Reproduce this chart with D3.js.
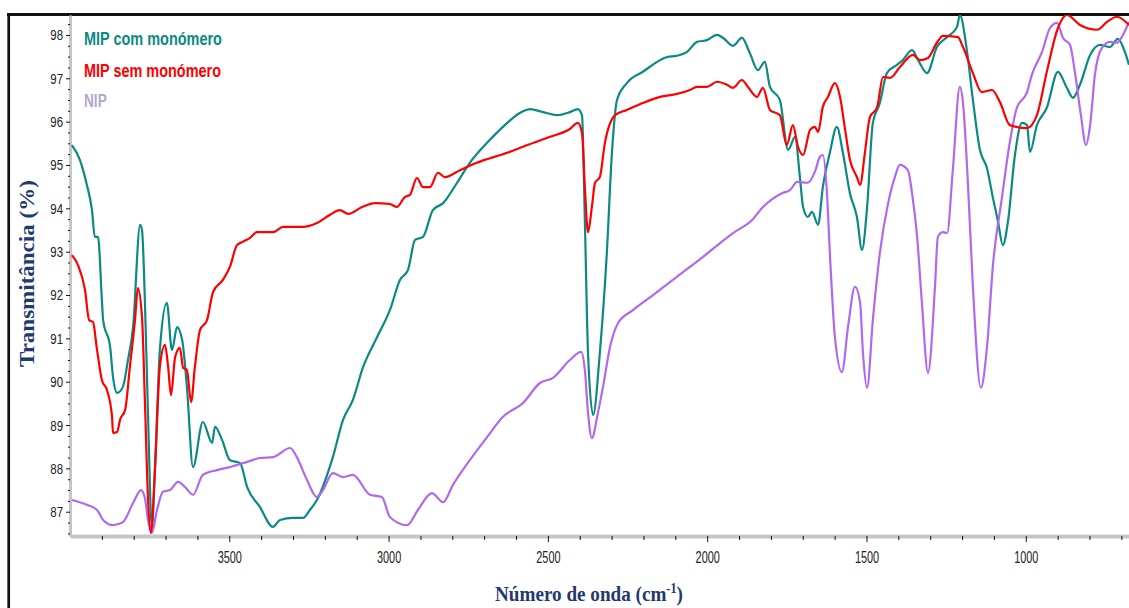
<!DOCTYPE html>
<html><head><meta charset="utf-8">
<script src="https://cdn.jsdelivr.net/npm/d3@7"></script>
<style>body{margin:0;background:#fff} svg{display:block}</style>
</head><body>
<svg id="c" width="1129" height="608"></svg>
<script>
// ---- data (wavenumber cm-1, transmittance %) ----
const seriesNames = ["MIP com monómero", "MIP sem monómero", "NIP"];
const xMajorTicks = [3500, 3000, 2500, 2000, 1500, 1000];
const yMajorTicks = [87, 88, 89, 90, 91, 92, 93, 94, 95, 96, 97, 98];
const xTitle = "Número de onda (cm";
const yTitle = "Transmitância (%)";

const mipCom = [[3994,95.46],[3969,95.12],[3947,94.54],[3931,93.96],[3922,93.34],[3912,93.34],[3900,91.89],[3896,91.42],[3874,90.80],[3865,90.11],[3852,89.74],[3834,89.88],[3818,90.50],[3802,91.26],[3780,93.62],[3774,93.50],[3765,91.89],[3755,89.19],[3743,86.65],[3733,88.03],[3718,90.73],[3696,91.82],[3680,90.73],[3664,91.26],[3648,90.96],[3633,89.88],[3614,88.03],[3583,89.07],[3554,88.59],[3545,88.96],[3523,88.66],[3498,88.19],[3466,88.12],[3444,87.57],[3404,87.11],[3363,86.65],[3341,86.81],[3300,86.86],[3269,86.86],[3247,87.04],[3225,87.27],[3175,88.26],[3143,89.12],[3112,89.58],[3080,90.34],[3036,91.03],[2996,91.65],[2964,92.35],[2939,92.58],[2917,93.27],[2892,93.34],[2861,93.96],[2829,94.12],[2785,94.59],[2745,95.05],[2691,95.51],[2641,95.88],[2588,96.20],[2556,96.29],[2515,96.22],[2471,96.15],[2431,96.22],[2406,96.29],[2393,96.15],[2384,93.73],[2374,90.66],[2358,89.23],[2337,90.66],[2315,92.97],[2299,95.28],[2283,96.50],[2252,96.89],[2202,97.15],[2126,97.49],[2095,97.52],[2063,97.61],[2032,97.84],[2001,97.88],[1969,98.00],[1950,97.93],[1919,97.75],[1891,97.93],[1866,97.58],[1841,97.19],[1819,97.38],[1803,96.80],[1772,96.50],[1746,95.35],[1724,95.65],[1709,94.72],[1699,94.03],[1684,93.80],[1671,93.92],[1652,93.62],[1637,94.49],[1615,95.28],[1593,95.88],[1574,95.28],[1552,94.35],[1530,93.80],[1514,93.04],[1498,94.03],[1480,95.97],[1458,96.43],[1436,97.12],[1404,97.31],[1386,97.42],[1357,97.65],[1338,97.42],[1310,97.12],[1279,97.72],[1247,97.95],[1216,98.18],[1207,98.46],[1185,97.65],[1166,96.50],[1144,95.35],[1122,94.93],[1103,94.24],[1087,93.69],[1072,93.15],[1056,93.69],[1034,95.23],[1012,95.97],[996,95.92],[987,95.30],[965,95.92],[934,96.32],[899,97.15],[871,96.78],[852,96.55],[830,96.85],[798,97.54],[767,97.77],[736,97.72],[711,97.91],[689,97.61],[676,97.31]];

const mipSem = [[3994,92.92],[3975,92.69],[3953,92.12],[3940,91.42],[3928,91.38],[3915,90.73],[3900,90.04],[3884,89.81],[3868,89.19],[3865,88.82],[3852,88.84],[3843,89.12],[3827,89.35],[3812,90.34],[3796,91.42],[3787,92.16],[3774,91.49],[3765,89.58],[3755,87.27],[3746,86.51],[3733,88.03],[3718,90.34],[3702,90.85],[3692,90.34],[3683,89.69],[3670,90.57],[3655,90.78],[3645,90.32],[3633,90.27],[3620,89.53],[3608,90.34],[3592,91.19],[3570,91.42],[3551,92.07],[3520,92.35],[3498,92.65],[3476,93.15],[3460,93.22],[3435,93.32],[3413,93.45],[3363,93.45],[3331,93.57],[3269,93.57],[3225,93.66],[3184,93.85],[3153,93.96],[3127,93.87],[3083,94.03],[3043,94.12],[2996,94.10],[2974,94.03],[2949,94.26],[2933,94.31],[2911,94.70],[2892,94.49],[2870,94.49],[2845,94.82],[2823,94.72],[2776,94.88],[2723,95.05],[2628,95.28],[2578,95.42],[2493,95.65],[2431,95.83],[2406,95.97],[2393,95.74],[2384,94.49],[2374,93.45],[2362,94.03],[2352,94.59],[2337,94.72],[2321,95.51],[2289,96.15],[2252,96.27],[2202,96.43],[2148,96.57],[2095,96.64],[2054,96.73],[2032,96.80],[2001,96.80],[1969,96.92],[1938,96.85],[1919,96.78],[1891,96.96],[1872,96.80],[1844,96.57],[1825,96.78],[1803,96.27],[1772,96.15],[1750,95.46],[1731,95.92],[1715,95.42],[1699,95.23],[1677,95.81],[1662,95.88],[1652,95.76],[1637,96.34],[1621,96.57],[1599,96.89],[1583,96.57],[1567,95.81],[1552,95.12],[1530,94.72],[1520,94.54],[1505,95.28],[1489,96.11],[1467,96.32],[1448,97.03],[1426,97.01],[1395,97.26],[1354,97.54],[1332,97.42],[1307,97.47],[1279,97.82],[1260,97.98],[1213,97.95],[1197,97.72],[1166,97.12],[1138,96.68],[1106,96.73],[1081,96.45],[1050,95.92],[996,95.85],[965,96.15],[934,97.15],[899,98.16],[871,98.46],[830,98.23],[776,98.12],[745,98.30],[714,98.42],[676,98.23]];

const nip = [[3994,87.27],[3969,87.22],[3947,87.16],[3915,87.04],[3896,86.81],[3865,86.69],[3834,86.76],[3802,87.20],[3777,87.50],[3765,87.32],[3755,86.81],[3743,86.51],[3727,87.04],[3708,87.46],[3686,87.50],[3661,87.69],[3639,87.57],[3614,87.39],[3583,87.85],[3539,87.96],[3498,88.03],[3444,88.15],[3404,88.24],[3363,88.26],[3309,88.47],[3288,88.26],[3256,87.73],[3225,87.34],[3206,87.50],[3175,87.89],[3143,87.80],[3112,87.85],[3058,87.39],[3021,87.34],[2996,86.88],[2942,86.69],[2908,87.04],[2864,87.43],[2829,87.22],[2798,87.62],[2745,88.19],[2691,88.72],[2641,89.19],[2578,89.51],[2525,89.97],[2484,90.09],[2431,90.50],[2396,90.69],[2384,90.27],[2374,89.28],[2362,88.70],[2343,89.28],[2327,89.88],[2305,90.80],[2280,91.35],[2233,91.65],[2170,92.00],[2095,92.42],[2013,92.88],[1919,93.43],[1859,93.73],[1825,94.03],[1765,94.35],[1740,94.42],[1718,94.61],[1684,94.59],[1662,94.84],[1646,95.19],[1637,95.23],[1624,94.35],[1615,92.97],[1599,91.03],[1577,90.22],[1558,91.26],[1536,92.19],[1520,91.82],[1511,90.66],[1498,89.86],[1480,91.42],[1458,92.97],[1432,94.12],[1411,94.72],[1395,95.00],[1370,94.88],[1357,94.35],[1341,93.34],[1326,91.82],[1307,90.20],[1285,92.19],[1276,93.34],[1260,93.45],[1247,93.43],[1229,94.88],[1207,96.80],[1197,96.43],[1181,94.49],[1166,92.19],[1141,89.86],[1122,90.78],[1103,92.69],[1075,94.24],[1050,95.53],[1028,96.32],[996,96.68],[981,97.08],[949,97.61],[924,98.16],[902,98.28],[883,97.93],[861,97.77],[846,97.15],[827,96.15],[811,95.46],[798,95.92],[783,97.08],[761,97.70],[736,97.84],[714,97.82],[695,98.00],[676,98.30]];

const seriesColors = ["#0b8a83", "#ff0000", "#b068f0"];
const legendColors = ["#0b8a83", "#ff0000", "#b3a6d2"];

// ---- layout ----
const svg = d3.select("#c");
const L = 70, R = 1129, T = 15, B = 536;
const x = d3.scaleLinear().domain([4000, 676]).range([L, R]);
const y = d3.scaleLinear().domain([86.44, 98.46]).range([B, T]);

const xMinor = d3.range(3900, 600, -100).filter(v => v % 500 !== 0 && v >= 676);
const yMinor = d3.range(86.5, 98.46, 0.25).filter(v => Math.abs(v - Math.round(v)) > 0.01);

// frame
svg.append("line").attr("x1", 7).attr("x2", 1129).attr("y1", 14.5).attr("y2", 14.5)
  .attr("stroke", "#111").attr("stroke-width", 3);
svg.append("line").attr("x1", 8.7).attr("x2", 8.7).attr("y1", 13).attr("y2", 608)
  .attr("stroke", "#111").attr("stroke-width", 2.7);

// x axis
const gx = svg.append("g").attr("transform", `translate(0,${B})`)
  .call(d3.axisBottom(x).tickValues(xMajorTicks).tickSize(6).tickSizeOuter(0).tickFormat(d3.format("d")));
gx.select(".domain").attr("stroke", "#c6c6c6").attr("stroke-width", 4);
gx.selectAll(".tick line").attr("stroke", "#111");
gx.selectAll(".tick text").attr("y", 15).attr("fill", "#222")
  .style("font-family", "'Liberation Sans', Arial, sans-serif").style("font-size", "17px")
  .attr("transform", "scale(0.64,1)");
const gxm = svg.append("g").attr("transform", `translate(0,${B})`)
  .call(d3.axisBottom(x).tickValues(xMinor).tickSize(4).tickFormat(""));
gxm.select(".domain").remove();
gxm.selectAll(".tick line").attr("stroke", "#111");

// y axis
const gy = svg.append("g").attr("transform", `translate(${L},0)`)
  .call(d3.axisLeft(y).tickValues(yMajorTicks).tickSize(4).tickSizeOuter(0).tickFormat(d3.format("d")));
gy.select(".domain").attr("stroke", "#c6c6c6").attr("stroke-width", 3);
gy.selectAll(".tick line").attr("stroke", "#111");
gy.selectAll(".tick text").attr("x", -7 / 0.74).attr("fill", "#222")
  .style("font-family", "'Liberation Sans', Arial, sans-serif").style("font-size", "15.5px")
  .attr("transform", "scale(0.74,1)");
const gym = svg.append("g").attr("transform", `translate(${L},0)`)
  .call(d3.axisLeft(y).tickValues(yMinor).tickSize(2).tickFormat(""));
gym.select(".domain").remove();
gym.selectAll(".tick line").attr("stroke", "#111");

// clip
svg.append("clipPath").attr("id", "clip").append("rect")
  .attr("x", L).attr("y", T).attr("width", R - L).attr("height", B - T);

const line = d3.line().x(d => x(d[0])).y(d => y(d[1])).curve(d3.curveMonotoneX);
const plot = svg.append("g").attr("clip-path", "url(#clip)");
[[mipCom, 0], [nip, 2], [mipSem, 1]].forEach(([data, i]) => {
  plot.append("path").datum(data).attr("d", line).attr("fill", "none")
    .attr("stroke", seriesColors[i]).attr("stroke-width", 2.2).attr("stroke-linejoin", "round");
});

// helper to fit text width
function fit(g, text, target) {
  const w = text.node().getBBox().width;
  return target / w;
}

// legend
const legY = [45, 76.5, 107];
const legW = [138, 137, 23];
seriesNames.forEach((n, i) => {
  const g = svg.append("g");
  const t = g.append("text").text(n).attr("fill", legendColors[i])
    .style("font-family", "'Liberation Sans', Arial, sans-serif").style("font-weight", "bold").style("font-size", "17.5px");
  const s = fit(g, t, legW[i]);
  g.attr("transform", `translate(84,${legY[i]}) scale(${s},1)`);
});

// x title
{
  const g = svg.append("g");
  const t = g.append("text").attr("fill", "#1f3a6e")
    .style("font-family", "'Liberation Serif', 'Times New Roman', serif").style("font-weight", "bold").style("font-size", "22px");
  t.append("tspan").text(xTitle);
  t.append("tspan").attr("dy", -8).style("font-size", "14px").text("-1");
  t.append("tspan").attr("dy", 8).text(")");
  const s = fit(g, t, 188);
  g.attr("transform", `translate(495,600.5) scale(${s},1)`);
}
// y title
{
  const g = svg.append("g");
  const t = g.append("text").attr("fill", "#1f3a6e").text(yTitle)
    .style("font-family", "'Liberation Serif', 'Times New Roman', serif").style("font-weight", "bold").style("font-size", "20px");
  const s = fit(g, t, 187);
  g.attr("transform", `translate(33.5,367) rotate(-90) scale(${s},1)`);
}
</script>
</body></html>
